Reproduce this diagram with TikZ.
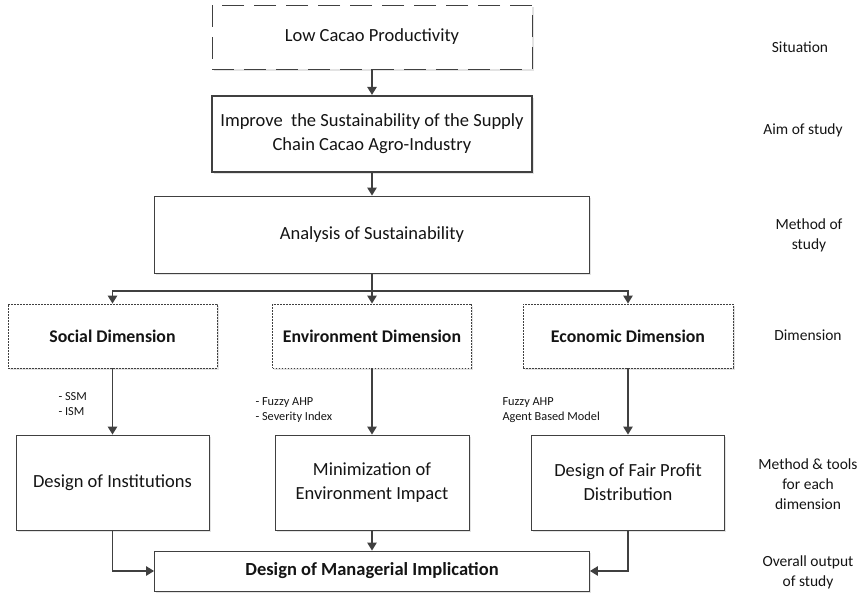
\documentclass[tikz,border=0pt]{standalone}
\usepackage{fontspec}
\setmainfont{Carlito}
\usetikzlibrary{arrows.meta,shadows}
\definecolor{linegray}{HTML}{404040}
\definecolor{textgray}{HTML}{141414}
\tikzset{
  box/.style={draw=linegray,fill=white,line width=0.9pt,align=center,text=textgray,
    inner sep=2pt,drop shadow={shadow xshift=1.6pt,shadow yshift=-1.6pt,fill=black!22}},
  mainfont/.style={font=\fontsize{18.5}{24}\selectfont},
  dimbox/.style={box,dash pattern=on 1.6pt off 1.4pt,font=\fontsize{17.8}{22}\selectfont\bfseries},
  toolnote/.style={anchor=west,align=left,text=textgray,font=\fontsize{12.3}{15}\selectfont},
  sidenote/.style={align=center,text=textgray,font=\fontsize{15.5}{20}\selectfont},
  arr/.style={draw=linegray,line width=1.3pt,-{Triangle[length=8pt,width=9.5pt]}},
  ln/.style={draw=linegray,line width=1.3pt}
}
\begin{document}
\begin{tikzpicture}[x=1pt,y=-1pt]
\useasboundingbox (0,0) rectangle (863,595);
% main chain
\node[box,mainfont,dash pattern=on 22pt off 10pt,minimum width=320pt,minimum height=64pt] (low) at (372,37) {Low Cacao Productivity};
\node[box,mainfont,line width=2.3pt,minimum width=320pt,minimum height=76pt] (aim) at (372,134) {Improve\ \ the Sustainability of the Supply\\Chain Cacao Agro-Industry};
\node[box,mainfont,minimum width=435pt,minimum height=77pt] (ana) at (372,234.5) {Analysis of Sustainability};
% dimensions
\node[dimbox,minimum width=209pt,minimum height=64pt] (soc) at (112.5,336) {Social Dimension};
\node[dimbox,minimum width=199pt,minimum height=64pt] (env) at (372,336) {Environment Dimension};
\node[dimbox,minimum width=210pt,minimum height=64pt] (eco) at (628,336) {Economic Dimension};
% outputs per dimension
\node[box,mainfont,minimum width=193pt,minimum height=95pt] (inst) at (112.5,482.5) {Design of Institutions};
\node[box,mainfont,minimum width=194pt,minimum height=95pt] (mini) at (372,482.5) {Minimization of\\Environment Impact};
\node[box,mainfont,minimum width=193pt,minimum height=95pt] (fair) at (628,482.5) {Design of Fair Profit\\Distribution};
\node[box,minimum width=435pt,minimum height=40pt,font=\fontsize{18.5}{24}\selectfont\bfseries] (mgr) at (372,571) {Design of Managerial Implication};
% tools
\node[toolnote] (ssm) at (55,404.5) {- SSM\\- ISM};
\node[toolnote] (fahp) at (252,410) {- Fuzzy AHP\\- Severity Index};
\node[toolnote] (abm) at (499,410.5) {Fuzzy AHP\\Agent Based Model};
% side labels
\node[sidenote] (l1) at (800,47) {Situation};
\node[sidenote] (l2) at (803,130) {Aim of study};
\node[sidenote] (l3) at (809,235) {Method of\\study};
\node[sidenote] (l4) at (808,335) {Dimension};
\node[sidenote] (l5) at (808,484) {Method \& tools\\for each\\dimension};
\node[sidenote] (l6) at (808,572) {Overall output\\of study};
% connectors
\coordinate (split) at (372,291);
\draw[arr] (low) -- (aim);
\draw[arr] (aim) -- (ana);
\draw[ln] (ana) -- (split);
\draw[arr] (split) -| (soc);
\draw[arr] (split) -- (env);
\draw[arr] (split) -| (eco);
\draw[arr] (soc) -- (inst);
\draw[arr] (env) -- (mini);
\draw[arr] (eco) -- (fair);
\draw[arr] (inst) |- (mgr);
\draw[arr] (mini) -- (mgr);
\draw[arr] (fair) |- (mgr);
\end{tikzpicture}
\end{document}
